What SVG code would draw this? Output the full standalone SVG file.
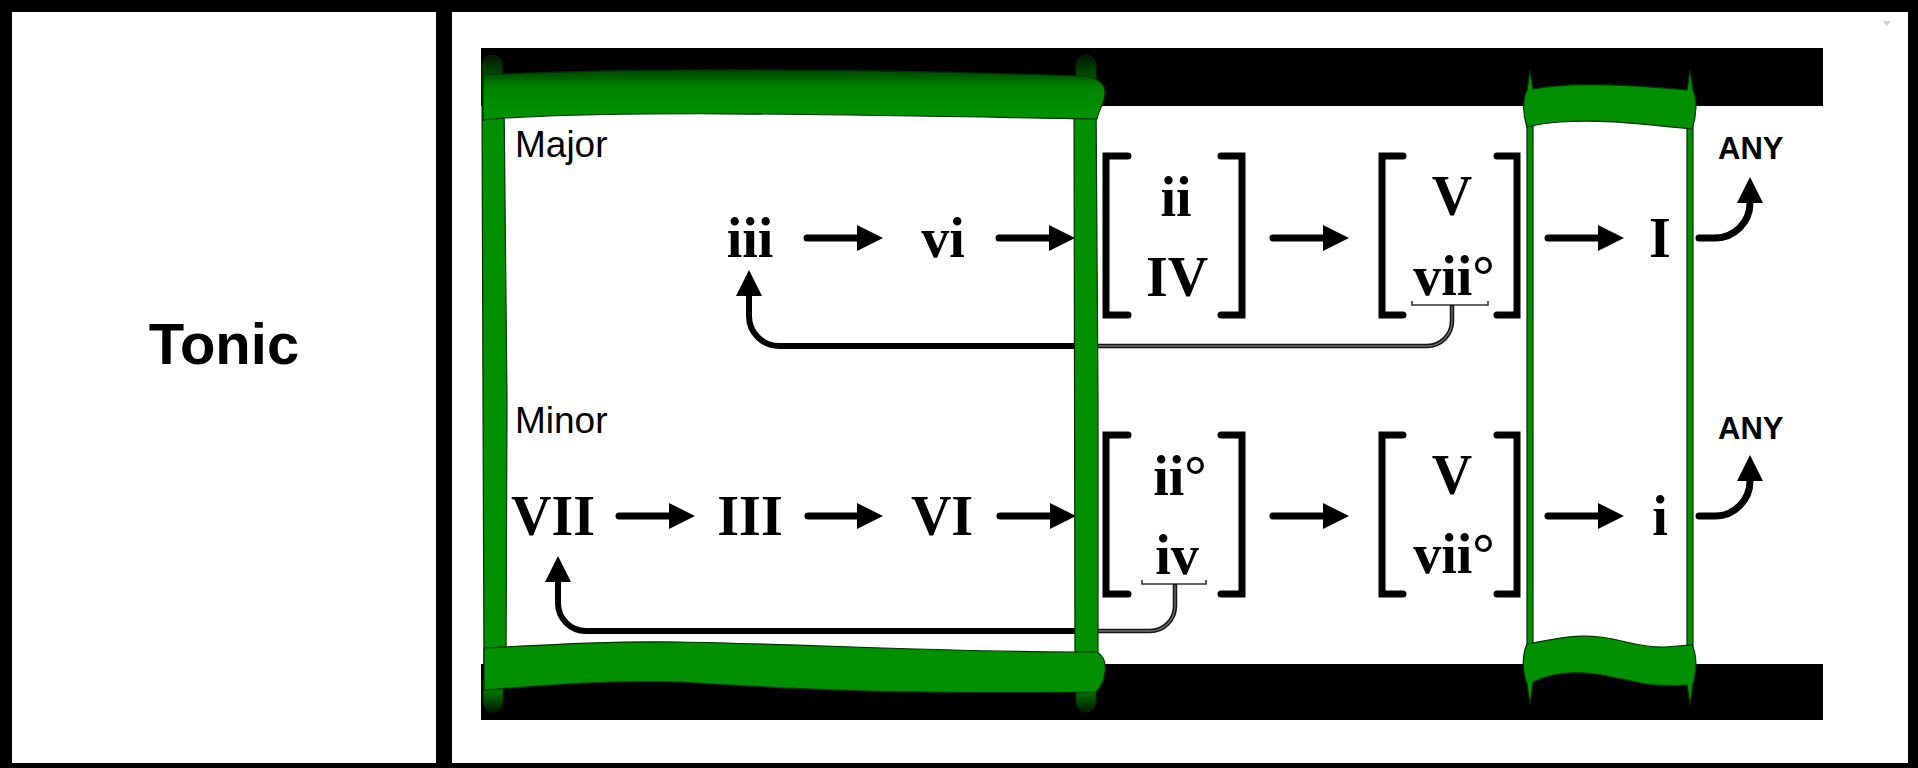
<svg xmlns="http://www.w3.org/2000/svg" width="1918" height="768" viewBox="0 0 1918 768">
<style>
.num{font-family:"Liberation Serif","Times New Roman",serif;font-weight:bold;font-size:56px;fill:#000;text-anchor:middle}
.lbl{font-family:"Liberation Sans",Arial,sans-serif;font-size:37px;fill:#000}
.any{font-family:"Liberation Sans",Arial,sans-serif;font-weight:bold;font-size:31px;fill:#000}
.arr{fill:none;stroke:#000;stroke-width:7;stroke-linecap:round;marker-end:url(#ah)}
.loop{fill:none;stroke:#000;stroke-width:6;marker-end:url(#ah)}
.gray{fill:none;stroke:#151515;stroke-width:4.5}
.grayin{fill:none;stroke:#707070;stroke-width:1.3}
.brace{fill:none;stroke:#333;stroke-width:1.6}
.brk{fill:none;stroke:#000;stroke-width:7;stroke-linecap:round;stroke-linejoin:miter}
.g{fill:#009000;stroke:#003000;stroke-width:1.2}
</style>
<defs>
<marker id="ah" markerUnits="userSpaceOnUse" markerWidth="28" markerHeight="28" refX="1" refY="13" orient="auto" viewBox="0 0 28 28" overflow="visible"><path d="M0,0 L26,13 L0,26 Z" fill="#000"/></marker>
<linearGradient id="topbar" x1="0" y1="0" x2="0" y2="1"><stop offset="0" stop-color="#004400"/><stop offset="0.35" stop-color="#008400"/><stop offset="1" stop-color="#009400"/></linearGradient>
<linearGradient id="capUp" x1="0" y1="0" x2="0" y2="1"><stop offset="0" stop-color="#001800"/><stop offset="0.6" stop-color="#006000"/><stop offset="1" stop-color="#009000"/></linearGradient>
<linearGradient id="capDown" x1="0" y1="0" x2="0" y2="1"><stop offset="0" stop-color="#009000"/><stop offset="0.45" stop-color="#006800"/><stop offset="1" stop-color="#001800"/></linearGradient>
</defs>

<g id="background">
<rect x="0" y="0" width="1918" height="768" fill="#000"/>
<rect x="12" y="12" width="424" height="751" fill="#fff"/>
<rect x="452" y="12" width="1456" height="751" fill="#fff"/>
<polygon points="1883,21 1891,21 1887,26" fill="#d0d0d0"/>
<rect x="481" y="48" width="1342" height="58" fill="#000"/>
<rect x="481" y="664" width="1342" height="56" fill="#000"/>
</g>

<g id="tonic-label"><text x="224" y="364" font-family="'Liberation Sans',Arial,sans-serif" font-weight="bold" font-size="58" text-anchor="middle">Tonic</text></g>

<g id="connectors">
<path class="arr" d="M807,238 H858"/>
<path class="arr" d="M999,238 H1050"/>
<path class="arr" d="M1273,238 H1324"/>
<path class="arr" d="M1548,238 H1599"/>
<path class="arr" d="M1699,238 H1715 A35,35 0 0 0 1750,203 V202"/>
<path class="arr" d="M619,516 H670"/>
<path class="arr" d="M808,516 H858"/>
<path class="arr" d="M1000,516 H1051"/>
<path class="arr" d="M1273,516 H1324"/>
<path class="arr" d="M1548,516 H1599"/>
<path class="arr" d="M1699,516 H1715 A35,35 0 0 0 1750,481 V480"/>
<path class="brace" d="M1412,301 V305 H1488 V301"/>
<path class="gray" d="M1452,305 V321 A25,25 0 0 1 1427,346 H1086"/>
<path class="grayin" d="M1452,306 V321 A25,25 0 0 1 1427,346 H1086"/>
<path class="loop" d="M1086,346 H779 A30,30 0 0 1 749,316 V295"/>
<path class="brace" d="M1142,580 V584 H1206 V580"/>
<path class="gray" d="M1175,584 V606 A25,25 0 0 1 1150,631 H1086"/>
<path class="grayin" d="M1175,585 V606 A25,25 0 0 1 1150,631 H1086"/>
<path class="loop" d="M1086,631 H586 A28,28 0 0 1 558,603 V581"/>
</g>

<g id="frame-tonic">
<path class="g" d="M482,100 L504,100 L507,400 L506,665 L484,665 L483,400 Z"/>
<path class="g" d="M1074,100 L1096,100 L1098,400 L1098,665 L1075,665 Z"/>
<path d="M482,100 L482,66 C482,52 502,52 502,66 L502,100 Z" fill="url(#capUp)" stroke="#003000" stroke-width="1"/>
<path d="M1076,100 L1076,66 C1076,52 1096,52 1096,66 L1096,100 Z" fill="url(#capUp)" stroke="#003000" stroke-width="1"/>
<path d="M483,75 C620,68 850,68 1080,76 C1100,76 1106,86 1105,94 C1104,104 1098,112 1097,119 C850,115 650,110 505,118 L483,120 Z" fill="url(#topbar)" stroke="#003000" stroke-width="1.2"/>
<path d="M483,680 L483,700 C483,716 503,716 503,700 L503,680 Z" fill="url(#capDown)" stroke="#003000" stroke-width="1"/>
<path d="M1076,680 L1076,700 C1076,716 1096,716 1096,700 L1096,680 Z" fill="url(#capDown)" stroke="#003000" stroke-width="1"/>
<path class="g" d="M484,648 C560,644 620,641 680,642 C800,644 950,652 1076,652 L1097,652 C1104,656 1106,664 1105,672 C1104,682 1100,688 1096,692 C900,694 800,690 680,682 C600,680 540,686 484,690 Z"/>
</g>

<g id="frame-tonic-2">
<rect class="g" x="1527" y="120" width="6" height="530"/>
<rect class="g" x="1687" y="120" width="6" height="530"/>
<path class="g" d="M1527,127 C1523,115 1522,100 1527,90 L1530,70 L1533,89 C1560,84 1600,82 1687,90 L1690,70 L1693,90 C1697,100 1697,115 1692,129 C1640,124 1600,119 1560,122 C1545,123 1535,125 1527,127 Z"/>
<path class="g" d="M1527,644 C1550,640 1570,634 1600,637 C1625,640 1640,648 1665,647 L1692,645 C1697,655 1697,670 1693,684 L1690,705 L1687,685 C1670,686 1655,686 1640,683 C1610,677 1590,670 1560,674 C1545,676 1538,680 1533,682 L1530,705 L1527,684 C1522,672 1522,655 1527,644 Z"/>
</g>

<g id="label-major"><text class="lbl" x="515" y="157">Major</text></g>
<g id="label-minor"><text class="lbl" x="515" y="433">Minor</text></g>

<g id="node-iii"><text class="num" x="750" y="257">iii</text></g>
<g id="node-vi"><text class="num" x="943" y="257">vi</text></g>
<g id="node-ii-IV">
<path class="brk" d="M1128,156 H1106 V315 H1128"/>
<path class="brk" d="M1221,156 H1242 V315 H1221"/>
<text class="num" x="1176" y="216">ii</text>
<text class="num" x="1177" y="296">IV</text>
</g>
<g id="node-V-vii-major">
<path class="brk" d="M1403,156 H1382 V315 H1403"/>
<path class="brk" d="M1497,156 H1517 V315 H1497"/>
<text class="num" x="1452" y="215">V</text>
<text class="num" x="1454" y="295">vii°</text>
</g>
<g id="node-I"><text class="num" x="1660" y="257">I</text></g>
<g id="node-any-major"><text class="any" x="1718" y="159">ANY</text></g>

<g id="node-VII"><text class="num" x="553" y="535">VII</text></g>
<g id="node-III"><text class="num" x="750" y="535">III</text></g>
<g id="node-VI"><text class="num" x="942" y="535">VI</text></g>
<g id="node-iio-iv">
<path class="brk" d="M1128,435 H1106 V594 H1128"/>
<path class="brk" d="M1221,435 H1242 V594 H1221"/>
<text class="num" x="1180" y="495">ii°</text>
<text class="num" x="1177" y="574">iv</text>
</g>
<g id="node-V-vii-minor">
<path class="brk" d="M1403,435 H1382 V594 H1403"/>
<path class="brk" d="M1497,435 H1517 V594 H1497"/>
<text class="num" x="1452" y="494">V</text>
<text class="num" x="1454" y="573">vii°</text>
</g>
<g id="node-i"><text class="num" x="1660" y="535">i</text></g>
<g id="node-any-minor"><text class="any" x="1718" y="439">ANY</text></g>
</svg>
